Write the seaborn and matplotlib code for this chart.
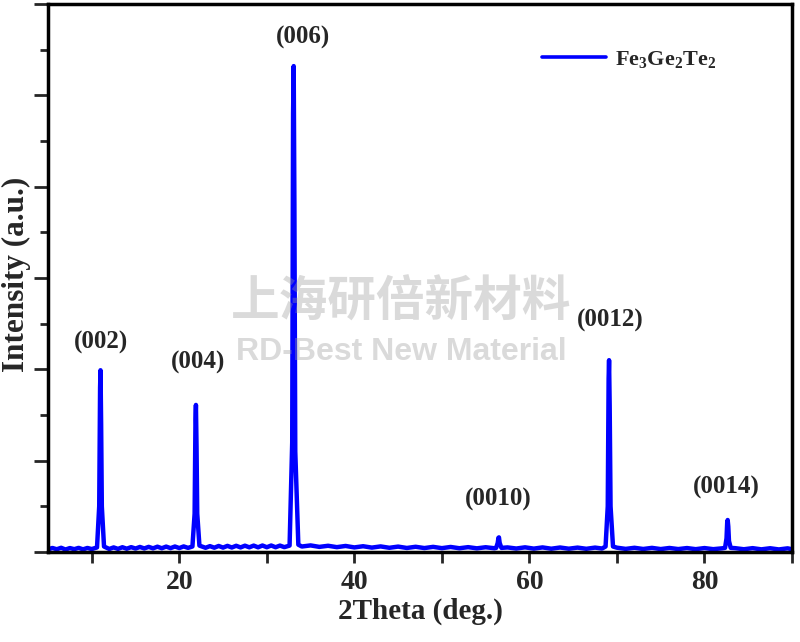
import matplotlib
matplotlib.use("Agg")
import matplotlib.pyplot as plt
import seaborn as sns
import pandas as pd
from matplotlib.ticker import MultipleLocator, FixedLocator, NullFormatter

# XRD pattern (intensity in arbitrary units)
two_theta = [
    5.0, 5.5, 6.0, 6.5, 7.0, 7.5, 8.0, 8.5, 9.0, 9.5, 10.0,
    10.6, 10.85, 10.95, 11.0, 11.07, 11.15, 11.4,
    12.0, 12.5, 13.0, 13.5, 14.0, 14.5, 15.0, 15.5, 16.0, 16.5, 17.0, 17.5,
    18.0, 18.5, 19.0, 19.5, 20.0, 20.5, 21.0,
    21.5, 21.75, 21.85, 21.9, 21.97, 22.05, 22.3,
    23.0, 23.5, 24.0, 24.5, 25.0, 25.5, 26.0, 26.5, 27.0, 27.5, 28.0, 28.5,
    29.0, 29.5, 30.0, 30.5, 31.0, 31.5, 32.0,
    32.6, 32.9, 33.0, 33.07, 33.15, 33.25, 33.6,
    34.0, 35.0, 36.0, 37.0, 38.0, 39.0, 40.0, 41.0, 42.0, 43.0, 44.0,
    45.0, 46.0, 47.0, 48.0, 49.0, 50.0, 51.0, 52.0, 53.0, 54.0, 55.0, 56.0,
    56.2, 56.38, 56.46, 56.52, 56.6, 56.8,
    57.5, 58.5, 59.5, 60.5, 61.5, 62.5, 63.5, 64.5, 65.5, 66.5, 67.5, 68.3,
    68.7, 68.95, 69.05, 69.1, 69.17, 69.27, 69.55,
    70.0, 71.0, 72.0, 73.0, 74.0, 75.0, 76.0, 77.0, 78.0, 79.0, 80.0, 81.0, 82.0,
    82.35, 82.52, 82.6, 82.65, 82.72, 82.8, 83.0,
    83.5, 84.5, 85.5, 86.5, 87.5, 88.5, 89.5, 90.0,
]
intensity = [
    0.028, 0.044, 0.030, 0.046, 0.027, 0.043, 0.031, 0.045, 0.029, 0.044, 0.032,
    0.050, 0.50, 1.80, 1.99, 1.40, 0.50, 0.060,
    0.033, 0.050, 0.034, 0.052, 0.036, 0.053, 0.038, 0.055, 0.039, 0.056, 0.040, 0.058,
    0.041, 0.059, 0.042, 0.060, 0.043, 0.061, 0.045,
    0.060, 0.42, 1.45, 1.61, 1.15, 0.42, 0.070,
    0.046, 0.064, 0.047, 0.066, 0.048, 0.067, 0.049, 0.068, 0.050, 0.069, 0.051, 0.070,
    0.051, 0.071, 0.052, 0.071, 0.052, 0.070, 0.053,
    0.070, 1.20, 4.80, 5.32, 3.80, 1.10, 0.080,
    0.060, 0.072, 0.056, 0.068, 0.053, 0.066, 0.050, 0.063, 0.048, 0.061, 0.046,
    0.059, 0.044, 0.057, 0.043, 0.056, 0.042, 0.055, 0.041, 0.053, 0.040, 0.052, 0.041,
    0.045, 0.10, 0.155, 0.16, 0.10, 0.045,
    0.050, 0.038, 0.051, 0.037, 0.050, 0.036, 0.049, 0.036, 0.048, 0.035, 0.048, 0.038,
    0.060, 0.50, 1.90, 2.10, 1.60, 0.50, 0.060,
    0.047, 0.034, 0.046, 0.033, 0.045, 0.032, 0.044, 0.032, 0.043, 0.031, 0.043, 0.031, 0.040,
    0.045, 0.15, 0.33, 0.35, 0.28, 0.12, 0.045,
    0.042, 0.030, 0.042, 0.029, 0.041, 0.028, 0.040, 0.030,
]

peak_labels = ["(002)", "(004)", "(006)", "(0010)", "(0012)", "(0014)"]
label_x = [11.0, 22.2, 34.1, 56.4, 69.2, 82.5]
label_y = [2.29, 2.08, 5.63, 0.57, 2.54, 0.71]

x_major = [20, 40, 60, 80]
x_minor = [10, 30, 50, 70, 90]

df = pd.DataFrame({"two_theta": two_theta, "intensity": intensity})

sns.set_style("ticks")
plt.rcParams["font.family"] = ["Liberation Serif", "DejaVu Serif"]
plt.rcParams["font.weight"] = "bold"
plt.rcParams["mathtext.fontset"] = "custom"
plt.rcParams["mathtext.bf"] = "Liberation Serif:bold"
plt.rcParams["mathtext.rm"] = "Liberation Serif:bold"

fig = plt.figure(figsize=(8, 6.42), dpi=100)
ax = fig.add_axes([0.06, 0.1402, 0.93, 0.8536])

sns.lineplot(
    data=df, x="two_theta", y="intensity", ax=ax,
    color="#0000ff", linewidth=3.2, estimator=None,
    label=r"$\mathbf{Fe_3Ge_2Te_2}$",
)

for txt, lx, ly in zip(peak_labels, label_x, label_y):
    ax.text(lx, ly, txt, ha="center", va="center", fontsize=18, fontweight="bold")

# watermark
ax.text(0.475, 0.455, "上海研倍新材料", transform=ax.transAxes, ha="center",
        va="center", fontsize=35, fontweight="bold", color="#9a9a9a", alpha=0.36,
        family=["Noto Sans CJK SC", "DejaVu Sans"], zorder=5)
ax.text(0.475, 0.365, "RD-Best New Material", transform=ax.transAxes, ha="center",
        va="center", fontsize=23, fontweight="bold", color="#9a9a9a", alpha=0.36,
        family=["Liberation Sans", "DejaVu Sans"], zorder=5)

ax.set_xlim(5, 90)
ax.set_ylim(0, 6)
ax.xaxis.set_major_locator(FixedLocator(x_major))
ax.xaxis.set_minor_locator(FixedLocator(x_minor))
ax.yaxis.set_major_locator(MultipleLocator(1))
ax.yaxis.set_minor_locator(MultipleLocator(0.5))
ax.yaxis.set_major_formatter(NullFormatter())
ax.tick_params(axis="x", which="both", direction="out", length=8, width=2,
               labelsize=20, pad=5)
ax.tick_params(axis="y", which="major", direction="out", length=10, width=2)
ax.tick_params(axis="y", which="minor", direction="out", length=6, width=2)
for s in ax.spines.values():
    s.set_linewidth(2.5)
    s.set_color("black")

ax.set_xlabel("2Theta (deg.)", fontsize=21, fontweight="bold", labelpad=2)
ax.set_ylabel("Intensity (a.u.)", fontsize=22.5, fontweight="bold")
ax.yaxis.set_label_coords(-0.023, 0.507)

leg = ax.legend(loc="upper left", bbox_to_anchor=(0.637, 0.955), frameon=False,
                fontsize=16, handlelength=2.9, handletextpad=0.4)
for line in leg.get_lines():
    line.set_linewidth(2.6)

fig.savefig("out.png", dpi=100)
